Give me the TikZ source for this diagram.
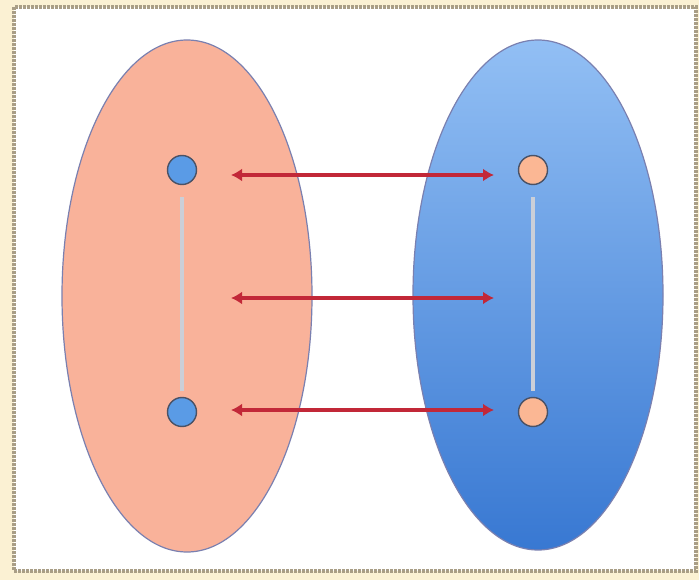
\documentclass[tikz,border=0pt]{standalone}
\usetikzlibrary{arrows.meta}
\definecolor{cream}{HTML}{FBF1D3}
\definecolor{framec}{HTML}{A99E86}
\definecolor{salmon}{HTML}{F9B29A}
\definecolor{bluetop}{HTML}{92BFF4}
\definecolor{bluebot}{HTML}{3878D2}
\definecolor{dotblue}{HTML}{5A9BE6}
\definecolor{dotsalmon}{HTML}{FBB794}
\definecolor{arrowred}{HTML}{C22838}
\definecolor{linegrey}{HTML}{CBCFD8}
\definecolor{blobline}{HTML}{7A80B0}
\definecolor{dotline}{HTML}{4A5266}
\tikzset{
  blob/.style={draw=blobline, line width=1.2pt},
  dotnode/.style={circle, draw=dotline, line width=1.4pt, minimum size=29pt, inner sep=0pt},
  maparrow/.style={draw=arrowred, line width=3.6pt, {Latex[length=11pt,width=13pt]}-{Latex[length=11pt,width=13pt]}, shorten <=1pt, shorten >=1pt},
  linkline/.style={draw=linegrey, line width=4pt}
}
\begin{document}
\begin{tikzpicture}[x=1pt,y=-1pt]
\useasboundingbox (0,0) rectangle (699,580);
\fill[cream] (0,0) rectangle (699,580);
\filldraw[fill=white, draw=framec, line width=4pt, dash pattern=on 3pt off 1pt] (14,7) rectangle (696,571);
% ellipses
\filldraw[blob, fill=salmon] (187,296) ellipse [x radius=125, y radius=256];
\shade[top color=bluetop, bottom color=bluebot] (538,295) ellipse [x radius=125, y radius=255];
\draw[blob] (538,295) ellipse [x radius=125, y radius=255];
% dots
\node[dotnode, fill=dotblue] (l1) at (182,170) {};
\node[dotnode, fill=dotblue] (l2) at (182,412) {};
\node[dotnode, fill=dotsalmon] (r1) at (533,170) {};
\node[dotnode, fill=dotsalmon] (r2) at (533,412) {};
\draw[linkline] ([yshift=-12pt]l1.south) -- ([yshift=6pt]l2.north);
\draw[linkline] ([yshift=-12pt]r1.south) -- ([yshift=6pt]r2.north);
% arrows
\coordinate (a1) at (230,175); \coordinate (b1) at (495,175);
\coordinate (a2) at (230,298); \coordinate (b2) at (495,298);
\coordinate (a3) at (230,410); \coordinate (b3) at (495,410);
\draw[maparrow] (a1) -- (b1);
\draw[maparrow] (a2) -- (b2);
\draw[maparrow] (a3) -- (b3);
\end{tikzpicture}
\end{document}
